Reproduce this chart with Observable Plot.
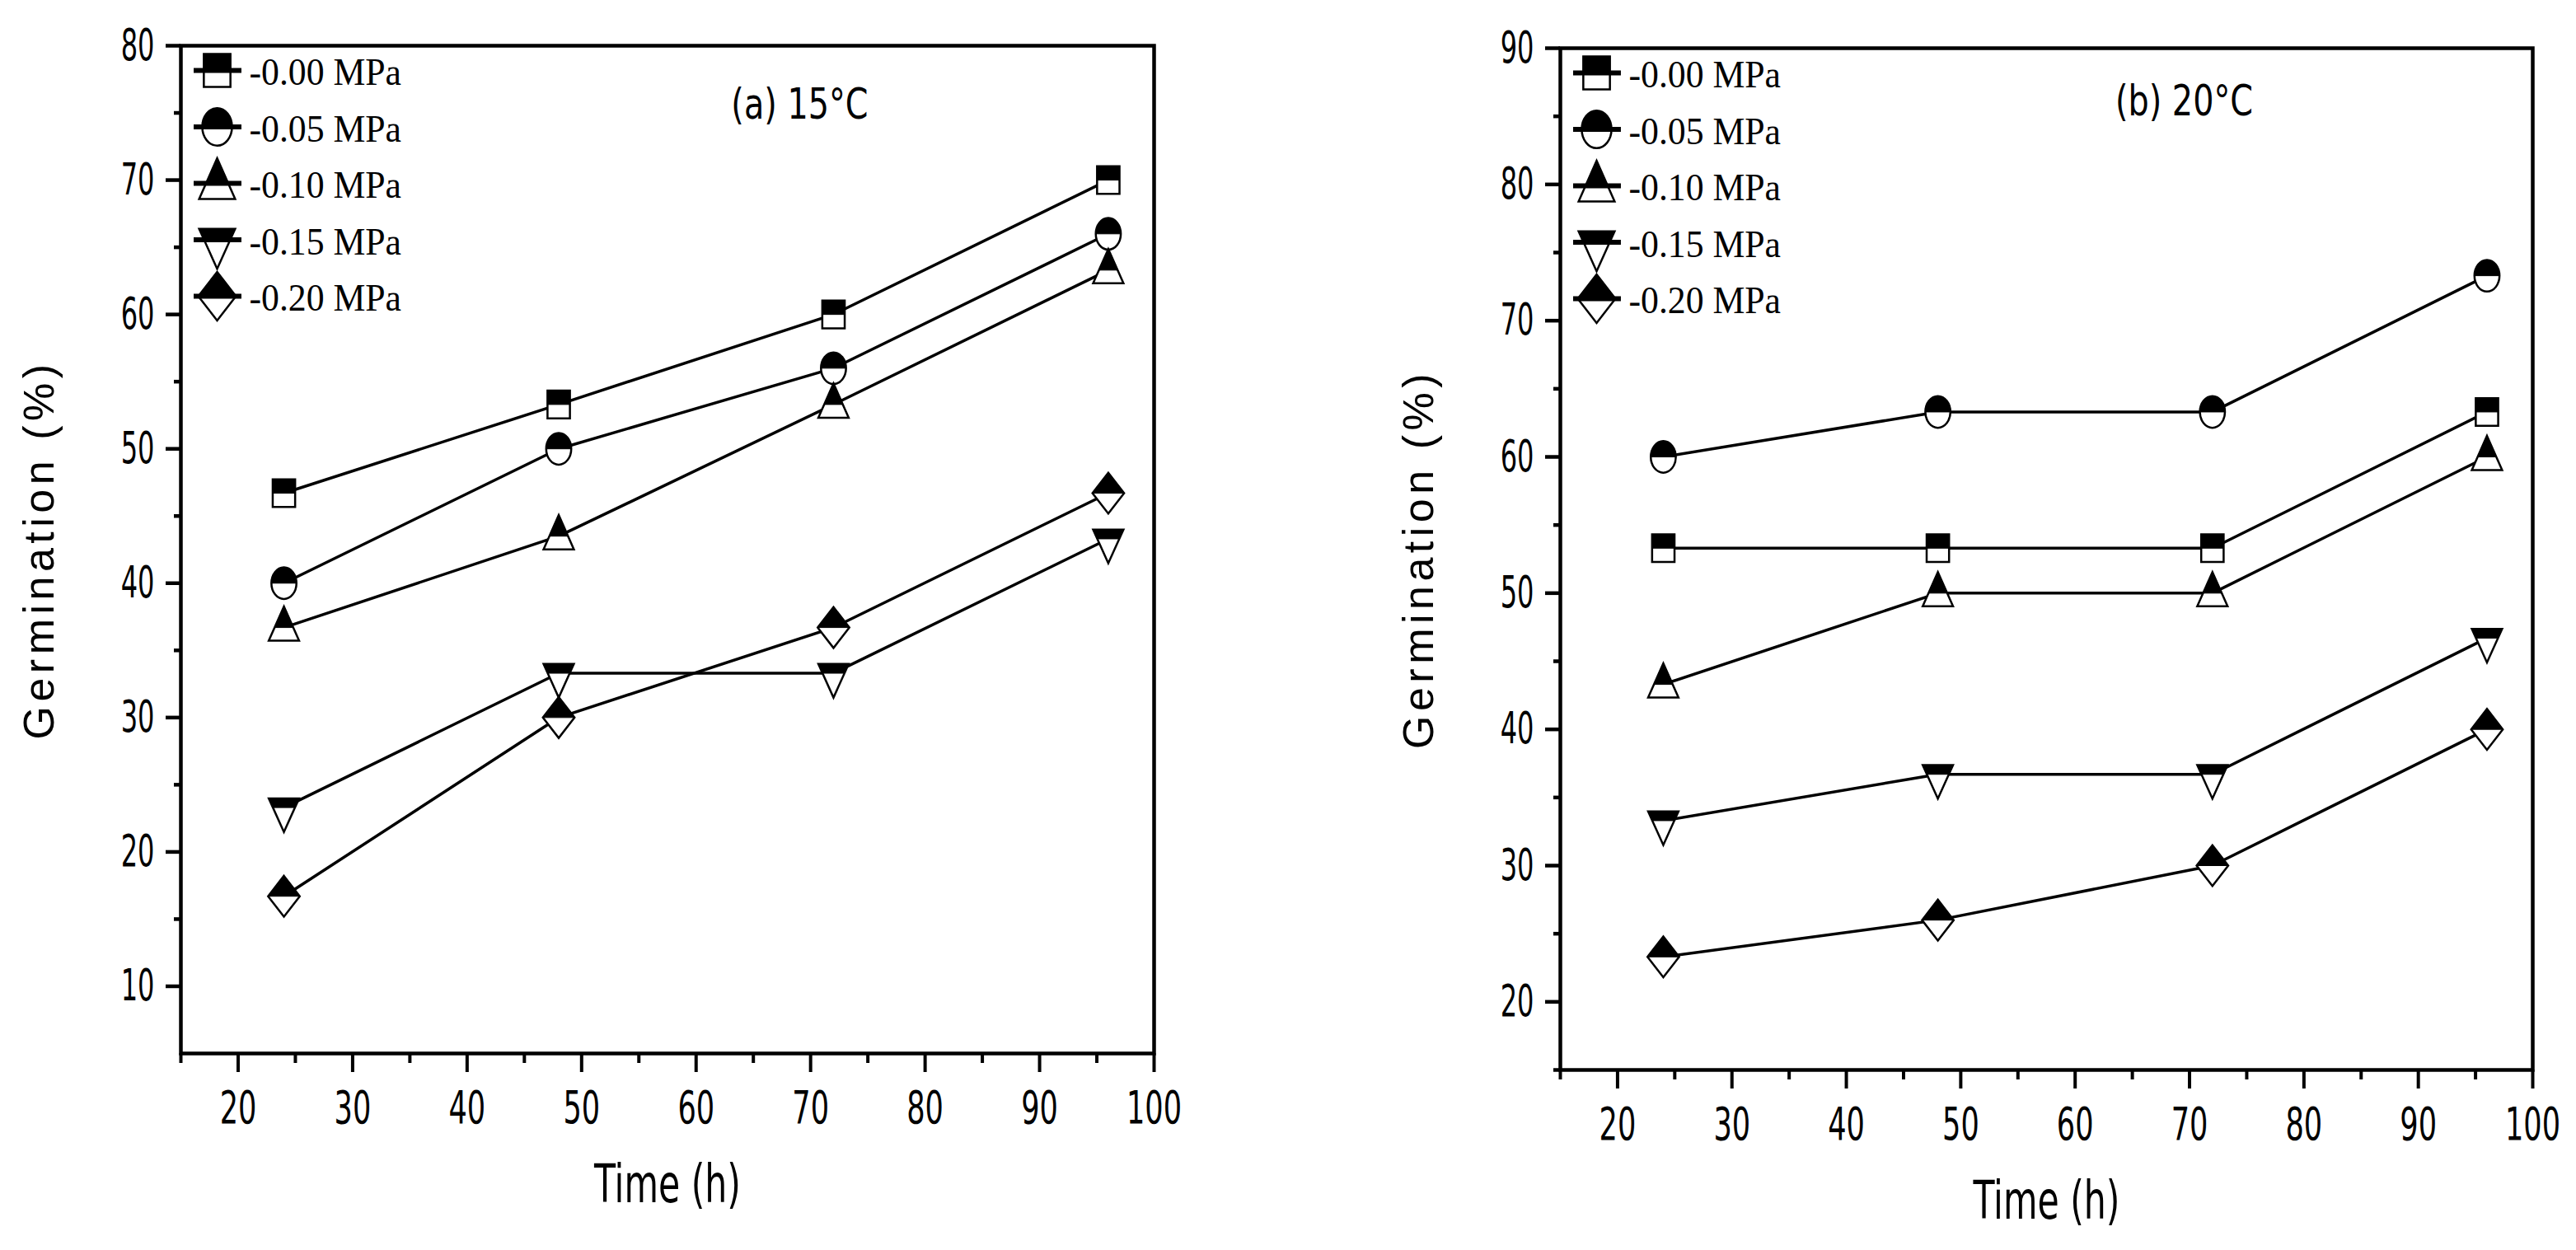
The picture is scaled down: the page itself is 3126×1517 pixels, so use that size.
<!DOCTYPE html>
<html>
<head>
<meta charset="utf-8">
<script src="https://cdn.jsdelivr.net/npm/d3@7"></script>
<script src="https://cdn.jsdelivr.net/npm/@observablehq/plot@0.6"></script>
<style>
  html, body { margin: 0; padding: 0; background: white; overflow: hidden; }
  #charts { display: flex; width: 3126px; height: 1517px; }
</style>
</head>
<body>
<div id="charts"></div>
<script>
// sampling times (h) and water potentials
const times = [24, 48, 72, 96];
const potentials = ["-0.00 MPa", "-0.05 MPa", "-0.10 MPa", "-0.15 MPa", "-0.20 MPa"];

// germination (%) at 15°C, one row per potential
const germ15 = [
  [46.7, 53.3, 60.0, 70.0],
  [40.0, 50.0, 56.0, 66.0],
  [36.7, 43.5, 53.3, 63.3],
  [23.3, 33.3, 33.3, 43.3],
  [16.7, 30.0, 36.7, 46.7]
];
// germination (%) at 20°C
const germ20 = [
  [53.3, 53.3, 53.3, 63.3],
  [60.0, 63.3, 63.3, 73.3],
  [43.3, 50.0, 50.0, 60.0],
  [33.3, 36.7, 36.7, 46.7],
  [23.3, 26.0, 30.0, 40.0]
];

const xTicks = [20, 30, 40, 50, 60, 70, 80, 90, 100];
const xMinor = [15, 25, 35, 45, 55, 65, 75, 85, 95];
const yTicks15 = [10, 20, 30, 40, 50, 60, 70, 80];
const yMinor15 = [15, 25, 35, 45, 55, 65, 75];
const yTicks20 = [20, 30, 40, 50, 60, 70, 80, 90];
const yMinor20 = [15, 25, 35, 45, 55, 65, 75, 85];

const narrow = "'Liberation Sans Narrow', 'Arial Narrow', 'DejaVu Sans Condensed', sans-serif";
const sans = "'Liberation Sans', Arial, sans-serif";
const serif = "'Liberation Serif', 'Times New Roman', serif";

// half filled markers (top half black), slightly taller than wide
const rad = s => Math.sqrt(s / Math.PI);
function poly(c, pts) {
  c.moveTo(pts[0][0], pts[0][1]);
  pts.slice(1).forEach(p => c.lineTo(p[0], p[1]));
  c.closePath();
}
function ellipse(c, rx, ry, half) {
  const kx = 0.5523 * rx, ky = 0.5523 * ry;
  c.moveTo(rx, 0);
  c.bezierCurveTo(rx, -ky, kx, -ry, 0, -ry);
  c.bezierCurveTo(-kx, -ry, -rx, -ky, -rx, 0);
  if (!half) {
    c.bezierCurveTo(-rx, ky, -kx, ry, 0, ry);
    c.bezierCurveTo(kx, ry, rx, ky, rx, 0);
  }
  c.closePath();
}
const shapes = [
  { // square
    full: {draw(c, s) { const k = rad(s); poly(c, [[-0.85*k, -1.05*k], [0.85*k, -1.05*k], [0.85*k, 1.05*k], [-0.85*k, 1.05*k]]); }},
    top: {draw(c, s) { const k = rad(s); poly(c, [[-0.85*k, -1.05*k], [0.85*k, -1.05*k], [0.85*k, 0], [-0.85*k, 0]]); }}
  },
  { // circle
    full: {draw(c, s) { const k = rad(s); ellipse(c, 0.95*k, 1.2*k, false); }},
    top: {draw(c, s) { const k = rad(s); ellipse(c, 0.95*k, 1.2*k, true); }}
  },
  { // up triangle
    full: {draw(c, s) { const k = rad(s); poly(c, [[0, -1.6*k], [1.15*k, k], [-1.15*k, k]]); }},
    top: {draw(c, s) { const k = rad(s), w = 1.15*k*1.6/2.6; poly(c, [[0, -1.6*k], [w, 0], [-w, 0]]); }}
  },
  { // down triangle
    full: {draw(c, s) { const k = rad(s); poly(c, [[-1.15*k, -0.7*k], [1.15*k, -0.7*k], [0, 1.85*k]]); }},
    top: {draw(c, s) { const k = rad(s), w = 1.15*k*1.85/2.55; poly(c, [[-1.15*k, -0.7*k], [1.15*k, -0.7*k], [w, 0], [-w, 0]]); }}
  },
  { // diamond
    full: {draw(c, s) { const k = rad(s); poly(c, [[0, -1.55*k], [1.2*k, 0], [0, 1.55*k], [-1.2*k, 0]]); }},
    top: {draw(c, s) { const k = rad(s); poly(c, [[0, -1.55*k], [1.2*k, 0], [-1.2*k, 0]]); }}
  }
];
const legendLine = {draw(c, s) { const k = rad(s); c.moveTo(-1.5*k, 0); c.lineTo(1.55*k, 0); }};

function panel({germ, yDomain, yTicks, yMinor, title, titleDx, titleDy, width, marginLeft, marginRight, marginTop, marginBottom}) {
  const rows = germ.flatMap((vals, i) => vals.map((v, j) => ({potential: potentials[i], idx: i, time: times[j], value: v})));
  const marks = [
    Plot.axisX(xTicks, {anchor: "bottom", tickSize: 23, tickPadding: 22, strokeWidth: 4, fontSize: 55, fontFamily: narrow, label: null}),
    Plot.axisX(xMinor, {anchor: "bottom", tickSize: 12, strokeWidth: 4, fill: "none", label: null}),
    Plot.axisY(yTicks, {anchor: "left", tickSize: 18, tickPadding: 14, strokeWidth: 4.5, fontSize: 54, fontFamily: narrow, label: null}),
    Plot.axisY(yMinor, {anchor: "left", tickSize: 8, strokeWidth: 4.5, fill: "none", label: null}),
    Plot.frame({stroke: "black", strokeWidth: 4.5}),
    Plot.text(["Germination (%)"], {frameAnchor: "left", dx: -171, rotate: -90, textAnchor: "middle", lineAnchor: "middle", fontSize: 52, fontFamily: sans}),
    Plot.text(["Time (h)"], {frameAnchor: "bottom", dy: 160, textAnchor: "middle", lineAnchor: "middle", fontSize: 64, fontFamily: narrow}),
    Plot.text([title], {frameAnchor: "top-left", dx: titleDx, dy: titleDy, textAnchor: "middle", lineAnchor: "middle", fontSize: 52, fontFamily: narrow}),
    Plot.line(rows, {x: "time", y: "value", z: "potential", stroke: "black", strokeWidth: 3.5})
  ];
  potentials.forEach((p, i) => {
    const sub = rows.filter(d => d.idx === i);
    marks.push(
      Plot.dot(sub, {x: "time", y: "value", r: 16, symbol: shapes[i].full, fill: "white", stroke: "black", strokeWidth: 2.5}),
      Plot.dot(sub, {x: "time", y: "value", r: 16, symbol: shapes[i].top, fill: "black", stroke: "black", strokeWidth: 1})
    );
    // legend entry, inside the frame at top left
    const dy = 30 + 68.5 * i;
    marks.push(
      Plot.dot([p], {frameAnchor: "top-left", dx: 44, dy, r: 19, symbol: shapes[i].full, fill: "white", stroke: "black", strokeWidth: 2.5}),
      Plot.dot([p], {frameAnchor: "top-left", dx: 44, dy, r: 19, symbol: shapes[i].top, fill: "black", stroke: "black", strokeWidth: 1}),
      Plot.dot([p], {frameAnchor: "top-left", dx: 44, dy, r: 19, symbol: legendLine, fill: "none", stroke: "black", strokeWidth: 6}),
      Plot.text([p], {frameAnchor: "top-left", dx: 83, dy: dy + 3, textAnchor: "start", lineAnchor: "middle", fontSize: 46, fontFamily: serif})
    );
  });
  return Plot.plot({
    width, height: 1517,
    marginLeft, marginRight, marginTop, marginBottom,
    style: {background: "white", color: "black", overflow: "visible"},
    x: {domain: [15, 100]},
    y: {domain: yDomain},
    marks
  });
}

// the source figure uses tall, narrow lettering: squeeze the sans labels horizontally
function squeeze(svg) {
  svg.querySelectorAll("text").forEach(t => {
    const s = t.textContent;
    let k = null;
    if (/^\d+$/.test(s)) k = getComputedStyle(t).textAnchor === "end" ? 0.66 : 0.71;
    else if (s === "Time (h)") k = 0.74;
    else if (s.startsWith("(")) k = 0.85;
    else if (s.endsWith("MPa")) k = 0.95;
    if (k) {
      t.setAttribute("textLength", t.getComputedTextLength() * k);
      t.setAttribute("lengthAdjust", "spacingAndGlyphs");
    }
    if (s === "Germination (%)") t.style.letterSpacing = "5.5px";
  });
}

const left = panel({
  germ: germ15, yDomain: [5, 80], yTicks: yTicks15, yMinor: yMinor15,
  title: "(a) 15°C", titleDx: 751, titleDy: 127 - 55,
  width: 1440, marginLeft: 219, marginRight: 40, marginTop: 55, marginBottom: 239
});
const right = panel({
  germ: germ20, yDomain: [15, 90], yTicks: yTicks20, yMinor: yMinor20,
  title: "(b) 20°C", titleDx: 757, titleDy: 123 - 58,
  width: 1686, marginLeft: 453, marginRight: 53, marginTop: 58, marginBottom: 219
});

const div = document.getElementById("charts");
div.appendChild(left);
div.appendChild(right);
squeeze(left);
squeeze(right);
</script>
</body>
</html>
